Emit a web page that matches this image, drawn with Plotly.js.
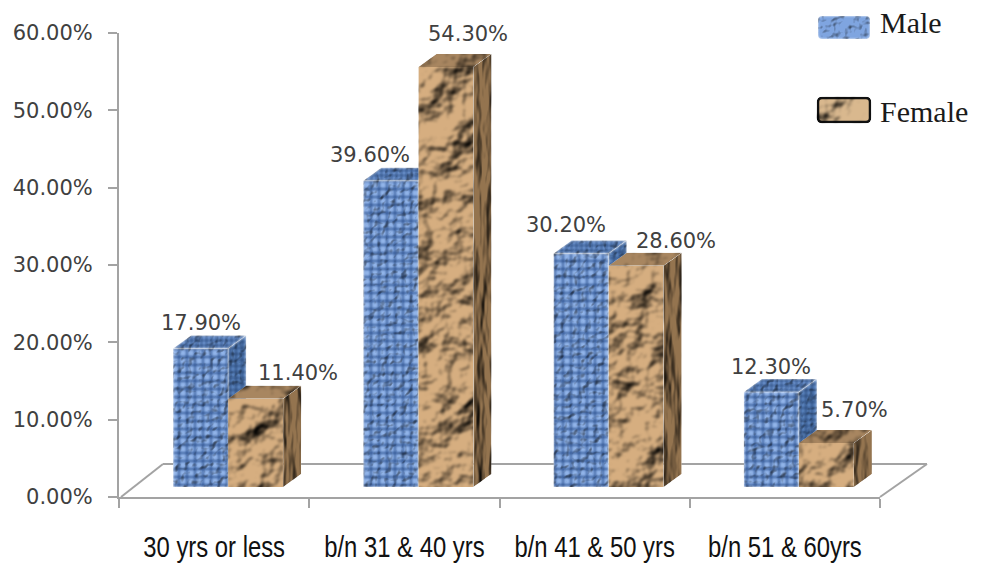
<!DOCTYPE html>
<html>
<head>
<meta charset="utf-8">
<script src="https://cdn.plot.ly/plotly-3.0.1.min.js"></script>
<style>html,body{margin:0;padding:0;background:#fff}#chart{width:984px;height:564px}</style>
</head>
<body>
<div id="chart"></div>
<svg width="0" height="0" style="position:absolute">
  <defs>
    <filter id="crumple" x="-0.1" y="-0.1" width="1.2" height="1.2" color-interpolation-filters="sRGB">
      <feTurbulence type="fractalNoise" baseFrequency="0.026" numOctaves="4" seed="11" result="n"/>
      <feDiffuseLighting in="n" surfaceScale="11" diffuseConstant="1.3" lighting-color="#ffffff" result="lit">
        <feDistantLight azimuth="235" elevation="46"/>
      </feDiffuseLighting>
      <feGaussianBlur in="lit" stdDeviation="0.9" result="soft"/>
      <feBlend in="soft" in2="SourceGraphic" mode="multiply" result="b"/>
      <feComposite in="b" in2="SourceAlpha" operator="in"/>
    </filter>
    <filter id="grain" x="-0.1" y="-0.1" width="1.2" height="1.2" color-interpolation-filters="sRGB">
      <feTurbulence type="fractalNoise" baseFrequency="0.08 0.018" numOctaves="3" seed="4" result="n"/>
      <feDiffuseLighting in="n" surfaceScale="4" diffuseConstant="1.15" lighting-color="#ffffff" result="lit">
        <feDistantLight azimuth="180" elevation="48"/>
      </feDiffuseLighting>
      <feBlend in="lit" in2="SourceGraphic" mode="multiply" result="b"/>
      <feComposite in="b" in2="SourceAlpha" operator="in"/>
    </filter>
    <filter id="weave" x="-0.1" y="-0.1" width="1.2" height="1.2" color-interpolation-filters="sRGB">
      <feGaussianBlur in="SourceGraphic" stdDeviation="0.85" result="soft"/>
      <feTurbulence type="fractalNoise" baseFrequency="0.14" numOctaves="2" seed="3" result="n"/>
      <feDiffuseLighting in="n" surfaceScale="2" diffuseConstant="1.3" lighting-color="#ffffff" result="lit">
        <feDistantLight azimuth="225" elevation="52"/>
      </feDiffuseLighting>
      <feBlend in="lit" in2="soft" mode="multiply" result="b"/>
      <feComposite in="b" in2="SourceAlpha" operator="in"/>
    </filter>
  </defs>
</svg>
<script>
// Gender split of respondents by age band
const ageBands = ['30 yrs or less', 'b/n 31 & 40 yrs', 'b/n 41 & 50 yrs', 'b/n 51 & 60yrs'];
const maleShare = [17.9, 39.6, 30.2, 12.3];
const femaleShare = [11.4, 54.3, 28.6, 5.7];
const positions = [0, 1, 2, 3];
const boundaries = [-0.5, 0.5, 1.5, 2.5, 3.5];

// Pixel frame of the plot area
const W = 984, H = 564, L = 119, R = 880, T = 33, B = 497;
const pxPerBand = (R - L) / 4, pxPerPct = (B - T) / 60;

// Box geometry: the boxes stand on a floor raised slightly above the zero line
const floorLift = 10 / pxPerPct;
const depthX = 18 / pxPerBand, depthY = 13 / pxPerPct;
const barWidth = 55 / pxPerBand, barShift = 14 / pxPerBand;

// Hand-placed label offsets in pixels, relative to the top-back edge of each box
const maleNudge = [[0, 13], [-21, 13], [-15, 15], [0, 12]];
const femaleNudge = [[42, 13], [22, 20], [40, 12], [28, 20]];

// Polygon runs for the top and side faces of one series, derived from its values
function faces(values, leftOf) {
  const top = {x: [], y: []}, side = {x: [], y: []};
  values.forEach((v, i) => {
    const l = leftOf(i), r = l + barWidth, t = v + floorLift, b = floorLift;
    top.x.push(l, r, r + depthX, l + depthX, l, null);
    top.y.push(t, t, t + depthY, t + depthY, t, null);
    side.x.push(r, r + depthX, r + depthX, r, r, null);
    side.y.push(b, b + depthY, t + depthY, t, b, null);
  });
  return {top, side};
}

function seriesTraces(name, values, leftOf, suffix, front, topStyle, sideStyle) {
  const f = faces(values, leftOf);
  const poly = (pts, st) => Object.assign({
    type: 'scatter', mode: 'lines', x: pts.x, y: pts.y, fill: 'toself',
    line: {width: 0}, hoverinfo: 'skip', showlegend: false, name: name,
    xaxis: 'x' + suffix, yaxis: 'y' + suffix
  }, st);
  return [
    Object.assign({
      type: 'bar', name: name, x: positions, y: values,
      base: values.map(() => floorLift), width: barWidth,
      showlegend: false, xaxis: 'x' + suffix, yaxis: 'y' + suffix
    }, front),
    poly(f.top, topStyle),
    poly(f.side, sideStyle)
  ];
}

const maleTraces = seriesTraces('Male', maleShare, i => i + barShift - barWidth, '',
  {offset: barShift - barWidth, marker: {color: '#8fb3e8', line: {width: 0},
    pattern: {shape: '+', size: 8, solidity: 0.32, fgcolor: '#1f4585', bgcolor: '#90b3e8', fillmode: 'replace'}}},
  {fillcolor: '#4f78b8', fillpattern: {shape: '+', size: 5, solidity: 0.35, fgcolor: '#1f3f70', bgcolor: '#6d94d0'}},
  {fillcolor: '#3f659f', fillpattern: {shape: '+', size: 6, solidity: 0.35, fgcolor: '#1b3763', bgcolor: '#5a84bf'}});

const femaleTraces = seriesTraces('Female', femaleShare, i => i + barShift, '2',
  {offset: barShift, marker: {color: '#d6ae80', line: {width: 0}}},
  {fillcolor: '#a88660'},
  {fillcolor: '#94744f'});

const labelFont = {family: 'DejaVu Sans, Verdana, sans-serif', size: 21, color: '#404040'};
const pct = v => v.toFixed(2) + '%';

function valueLabels(values, leftOf, nudge) {
  return values.map((v, i) => ({
    xref: 'x', yref: 'y', x: leftOf(i) + barWidth / 2, y: v + floorLift + depthY,
    text: pct(v), showarrow: false, xanchor: 'center', yanchor: 'middle',
    xshift: nudge[i][0], yshift: nudge[i][1], font: labelFont
  }));
}

const px = x => (x - L) / (R - L), py = y => (B - y) / (B - T);

// Floor outline drawn under the boxes
const floorLine = (x0, y0, x1, y1) => ({
  type: 'line', layer: 'below', xref: 'paper', yref: 'paper',
  x0: px(x0), y0: py(y0), x1: px(x1), y1: py(y1),
  line: {color: '#a3a3a3', width: 2}
});

// Legend keys with rounded corners
function roundedKey(x0, y0, x1, y1, r, fill, lineColor, lineWidth) {
  const p = (x, y) => px(x).toFixed(5) + ' ' + py(y).toFixed(5);
  const path = ['M', p(x0 + r, y0), 'L', p(x1 - r, y0), 'Q', p(x1, y0), p(x1, y0 + r),
    'L', p(x1, y1 - r), 'Q', p(x1, y1), p(x1 - r, y1),
    'L', p(x0 + r, y1), 'Q', p(x0, y1), p(x0, y1 - r),
    'L', p(x0, y0 + r), 'Q', p(x0, y0), p(x0 + r, y0), 'Z'].join(' ');
  return {type: 'path', xref: 'paper', yref: 'paper', path, fillcolor: fill,
    line: {color: lineColor, width: lineWidth}};
}

const legendFont = {family: 'Liberation Serif, Times New Roman, serif', size: 30, color: '#1a1a1a'};
const legendText = (text, y) => ({
  xref: 'paper', yref: 'paper', x: px(878), y: py(y), text, showarrow: false,
  xanchor: 'left', yanchor: 'middle', font: legendFont
});

const layout = {
  width: W, height: H, autosize: false, showlegend: false,
  paper_bgcolor: '#ffffff', plot_bgcolor: 'rgba(0,0,0,0)',
  margin: {l: L, r: W - R, t: T, b: H - B, pad: 0},
  xaxis: {
    type: 'linear', range: [-0.5, 3.5], tickmode: 'array', tickvals: boundaries,
    ticktext: boundaries.map(() => ''), ticks: 'outside', ticklen: 9, tickwidth: 2,
    tickcolor: '#a3a3a3', showgrid: false, zeroline: false, showline: true,
    linecolor: '#a3a3a3', linewidth: 2, fixedrange: true
  },
  yaxis: {
    range: [0, 60], dtick: 10, tick0: 0, tickformat: '.2f', ticksuffix: '%',
    ticks: 'outside', ticklen: 9, tickwidth: 2, tickcolor: '#a3a3a3',
    showgrid: false, zeroline: false, showline: true, linecolor: '#a3a3a3', linewidth: 2,
    tickfont: labelFont, ticklabelstandoff: 11, fixedrange: true
  },
  xaxis2: {
    overlaying: 'x', anchor: 'y2', type: 'linear', range: [-0.5, 3.5], tickmode: 'array',
    tickvals: positions, ticktext: ageBands, ticks: '', tickangle: 0, showgrid: false, zeroline: false,
    showline: false, ticklabelstandoff: 29, fixedrange: true,
    tickfont: {family: 'Liberation Sans, Arial, sans-serif', size: 30, color: '#111111'}
  },
  yaxis2: {overlaying: 'y', anchor: 'x2', range: [0, 60], visible: false, fixedrange: true},
  shapes: [
    floorLine(121, 497, 163, 464),
    floorLine(163, 464, 927, 464),
    floorLine(927, 464, 880, 497),
    roundedKey(818, 16, 870, 39, 4, '#7fa5e0', 'rgba(0,0,0,0)', 0),
    roundedKey(818, 98, 870, 122, 4, '#d9b88e', '#111111', 2.5)
  ],
  annotations: [
    ...valueLabels(maleShare, i => i + barShift - barWidth, maleNudge),
    ...valueLabels(femaleShare, i => i + barShift, femaleNudge),
    legendText('Male', 23),
    legendText('Female', 111)
  ]
};

const traces = [...maleTraces, ...femaleTraces];

Plotly.newPlot('chart', traces, layout, {staticPlot: true, displayModeBar: false}).then(gd => {
  // Surface textures for the box faces
  const tag = (el, id) => el && el.setAttribute('filter', 'url(#' + id + ')');
  gd.querySelectorAll('.barlayer .point path').forEach((p, i) => tag(p, i < maleShare.length ? 'weave' : 'crumple'));
  const fills = gd.querySelectorAll('.scatterlayer .js-fill');
  ['weave', 'weave', 'crumple', 'grain'].forEach((id, i) => tag(fills[i], id));
  gd.querySelectorAll('.shapelayer path').forEach(k => {
    const fill = k.style.fill || '';
    if (fill.includes('127, 165, 224')) tag(k, 'weave');
    if (fill.includes('217, 184, 142')) tag(k, 'crumple');
  });
  // Condensed lettering for the age-band labels
  gd.querySelectorAll('.x2tick text').forEach(t => {
    const cx = parseFloat(t.getAttribute('x'));
    const base = t.getAttribute('transform') || '';
    t.setAttribute('transform', base + ' translate(' + cx + ',0) scale(0.795,1) translate(' + (-cx) + ',0)');
  });
});
</script>
</body>
</html>
